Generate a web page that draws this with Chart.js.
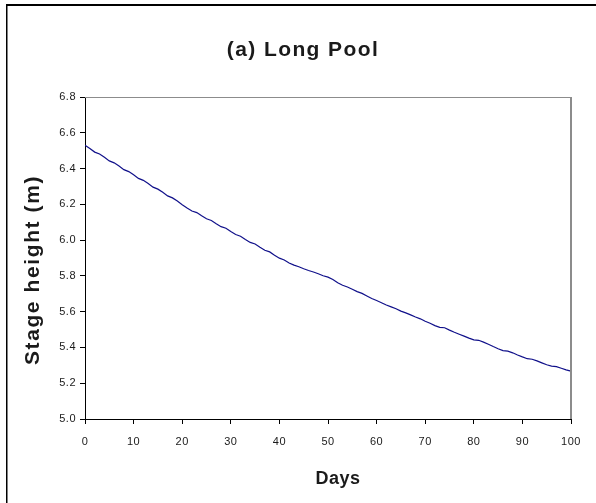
<!DOCTYPE html>
<html>
<head>
<meta charset="utf-8">
<script src="https://cdn.jsdelivr.net/npm/chart.js@4/dist/chart.umd.min.js"></script>
<style>
  html, body { margin: 0; padding: 0; background: #fff; }
  #wrap { position: relative; width: 596px; height: 503px; }
</style>
</head>
<body>
<div id="wrap"><canvas id="c" width="596" height="503"></canvas></div>
<script>
// Daily stage readings for the Long Pool
const days = [
  0, 1, 2, 3, 4, 5, 6, 7, 8, 9,
  10, 11, 12, 13, 14, 15, 16, 17, 18, 19,
  20, 21, 22, 23, 24, 25, 26, 27, 28, 29,
  30, 31, 32, 33, 34, 35, 36, 37, 38, 39,
  40, 41, 42, 43, 44, 45, 46, 47, 48, 49,
  50, 51, 52, 53, 54, 55, 56, 57, 58, 59,
  60, 61, 62, 63, 64, 65, 66, 67, 68, 69,
  70, 71, 72, 73, 74, 75, 76, 77, 78, 79,
  80, 81, 82, 83, 84, 85, 86, 87, 88, 89,
  90, 91, 92, 93, 94, 95, 96, 97, 98, 99,
  100
];
const stage = [
  6.530, 6.512, 6.492, 6.481, 6.463, 6.443, 6.432, 6.414, 6.394, 6.383,
  6.365, 6.345, 6.334, 6.316, 6.296, 6.285, 6.267, 6.247, 6.236, 6.218,
  6.198, 6.180, 6.163, 6.154, 6.136, 6.119, 6.110, 6.092, 6.075, 6.066,
  6.048, 6.031, 6.022, 6.004, 5.987, 5.978, 5.960, 5.943, 5.934, 5.916,
  5.899, 5.889, 5.872, 5.860, 5.851, 5.840, 5.830, 5.822, 5.812, 5.801,
  5.793, 5.780, 5.762, 5.748, 5.738, 5.725, 5.712, 5.702, 5.688, 5.674,
  5.662, 5.650, 5.637, 5.627, 5.616, 5.603, 5.593, 5.582, 5.570, 5.560,
  5.546, 5.535, 5.522, 5.512, 5.510, 5.497, 5.485, 5.474, 5.463, 5.452,
  5.442, 5.440, 5.430, 5.418, 5.405, 5.393, 5.382, 5.379, 5.370, 5.358,
  5.347, 5.337, 5.334, 5.325, 5.314, 5.303, 5.296, 5.293, 5.284, 5.275,
  5.267
];
const dayTicks = [0, 10, 20, 30, 40, 50, 60, 70, 80, 90, 100];
const stageTicks = [5.0, 5.2, 5.4, 5.6, 5.8, 6.0, 6.2, 6.4, 6.6, 6.8];

const chartTitle = '(a) Long Pool';
const xTitle = 'Days';
const yTitle = 'Stage height (m)';

const FONT = '"Liberation Sans", Arial, Helvetica, sans-serif';
const TEXT = '#1a1a1a';

// Frame, plot border and titles
const decor = {
  id: 'decor',
  beforeDraw(chart) {
    const ctx = chart.ctx;
    ctx.save();
    ctx.fillStyle = '#fff';
    ctx.fillRect(0, 0, chart.width, chart.height);
    // outer frame (top and left edges)
    ctx.fillStyle = '#000';
    ctx.fillRect(6, 4, chart.width - 6, 2);
    ctx.fillRect(6, 4, 1.5, chart.height - 4);
    ctx.restore();
    ctx.letterSpacing = '0.5px';
  },
  afterDatasetsDraw(chart) {
    const ctx = chart.ctx;
    const a = chart.chartArea;
    ctx.save();
    ctx.strokeStyle = '#8c8c8c';
    ctx.lineWidth = 1;
    ctx.beginPath();
    ctx.moveTo(a.left, a.top + 0.5);
    ctx.lineTo(a.right, a.top + 0.5);
    ctx.stroke();
    ctx.lineWidth = 2;
    ctx.beginPath();
    ctx.moveTo(a.right, a.top);
    ctx.lineTo(a.right, a.bottom);
    ctx.stroke();
    ctx.restore();
  },
  afterDraw(chart) {
    const ctx = chart.ctx;
    ctx.save();
    ctx.fillStyle = TEXT;
    ctx.textAlign = 'center';
    ctx.textBaseline = 'middle';
    ctx.letterSpacing = '1.4px';
    ctx.font = 'bold 21px ' + FONT;
    ctx.fillText(chartTitle, 303, 50);
    ctx.letterSpacing = '0.5px';
    ctx.font = 'bold 18px ' + FONT;
    ctx.fillText(xTitle, 338, 479);
    ctx.translate(33, 270);
    ctx.rotate(-Math.PI / 2);
    ctx.letterSpacing = '1.6px';
    ctx.font = 'bold 21px ' + FONT;
    ctx.fillText(yTitle, 0, 0);
    ctx.restore();
  }
};

new Chart(document.getElementById('c'), {
  type: 'line',
  data: {
    datasets: [{
      data: days.map((d, i) => ({ x: d, y: stage[i] })),
      borderColor: '#10108a',
      borderWidth: 1.2,
      pointRadius: 0,
      tension: 0,
      fill: false
    }]
  },
  options: {
    responsive: false,
    animation: false,
    devicePixelRatio: 1,
    layout: { padding: { top: 97, right: 25, left: 0, bottom: 0 } },
    plugins: { legend: { display: false }, tooltip: { enabled: false }, title: { display: false } },
    scales: {
      x: {
        type: 'linear',
        min: 0,
        max: 100,
        afterBuildTicks: s => { s.ticks = dayTicks.map(v => ({ value: v })); },
        afterFit: s => { s.height = 84; },
        grid: { display: true, drawOnChartArea: false, drawTicks: true, tickLength: 5, color: '#000', lineWidth: 1 },
        border: { display: true, color: '#000', width: 1 },
        ticks: { color: TEXT, font: { family: FONT, size: 11 }, padding: 11, maxRotation: 0, autoSkip: false }
      },
      y: {
        type: 'linear',
        min: 5.0,
        max: 6.8,
        afterBuildTicks: s => { s.ticks = stageTicks.map(v => ({ value: v })); },
        afterFit: s => { s.width = 85; },
        grid: { display: true, drawOnChartArea: false, drawTicks: true, tickLength: 5, color: '#000', lineWidth: 1 },
        border: { display: true, color: '#000', width: 1 },
        ticks: { color: TEXT, font: { family: FONT, size: 11 }, padding: 4, autoSkip: false,
                 callback: v => Number(v).toFixed(1) }
      }
    }
  },
  plugins: [decor]
});
</script>
</body>
</html>
